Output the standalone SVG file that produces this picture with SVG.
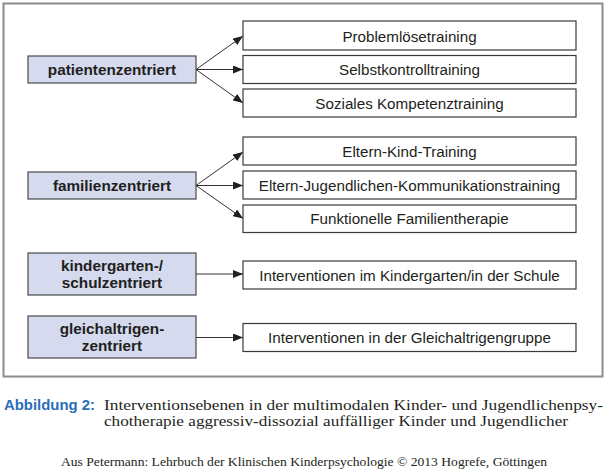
<svg xmlns="http://www.w3.org/2000/svg" width="607" height="474" viewBox="0 0 607 474">
  <style>
    .frame { fill: #ffffff; stroke: #8c8c8c; stroke-width: 2; }
    .level rect { fill: #d5daef; stroke: #4a4a4a; stroke-width: 1.2; }
    .level text { font-family: "Liberation Sans", Arial, sans-serif; font-size: 15.3px; font-weight: bold; fill: #231f20; text-anchor: middle; }
    .measure rect { fill: #ffffff; stroke: #3a3a3a; stroke-width: 1.2; }
    .measure text { font-family: "Liberation Sans", Arial, sans-serif; font-size: 15.2px; fill: #231f20; text-anchor: middle; }
    .conn line { stroke: #333333; stroke-width: 1; marker-end: url(#arrow); }
    .cap-label { font-family: "Liberation Sans", Arial, sans-serif; font-size: 15px; font-weight: bold; fill: #2a6db9; }
    .cap-text { font-family: "Liberation Serif", "Times New Roman", serif; font-size: 14.5px; fill: #231f20; }
    .credit { font-family: "Liberation Serif", "Times New Roman", serif; font-size: 12px; fill: #231f20; }
  </style>
  <defs>
    <marker id="arrow" markerUnits="userSpaceOnUse" markerWidth="10" markerHeight="8" refX="10" refY="4" orient="auto">
      <path d="M0,0 L10,4 L0,8 z" fill="#231f20"/>
    </marker>
  </defs>

  <rect width="607" height="474" fill="#ffffff"/>
  <rect class="frame" x="3.5" y="3.5" width="599" height="373"/>

  <!-- left: intervention levels -->
  <g id="patientenzentriert" class="level">
    <rect x="28" y="56" width="168" height="27"/>
    <text x="112" y="75">patientenzentriert</text>
  </g>
  <g id="familienzentriert" class="level">
    <rect x="28" y="172" width="168" height="27"/>
    <text x="112" y="191">familienzentriert</text>
  </g>
  <g id="kindergarten-schulzentriert" class="level">
    <rect x="28" y="253" width="168" height="42"/>
    <text x="112" y="271">kindergarten-/</text>
    <text x="112" y="288">schulzentriert</text>
  </g>
  <g id="gleichaltrigenzentriert" class="level">
    <rect x="28" y="316" width="168" height="42"/>
    <text x="112" y="334">gleichaltrigen-</text>
    <text x="112" y="351">zentriert</text>
  </g>

  <!-- right: measures -->
  <g id="problemloesetraining" class="measure">
    <rect x="243" y="21" width="333" height="29"/>
    <text x="409.5" y="41.5">Problemlösetraining</text>
  </g>
  <g id="selbstkontrolltraining" class="measure">
    <rect x="243" y="55.5" width="333" height="28"/>
    <text x="409.5" y="75">Selbstkontrolltraining</text>
  </g>
  <g id="soziales-kompetenztraining" class="measure">
    <rect x="243" y="89" width="333" height="28"/>
    <text x="409.5" y="108.5">Soziales Kompetenztraining</text>
  </g>
  <g id="eltern-kind-training" class="measure">
    <rect x="243" y="137" width="333" height="28"/>
    <text x="409.5" y="156.5">Eltern-Kind-Training</text>
  </g>
  <g id="eltern-jugendlichen-kommunikationstraining" class="measure">
    <rect x="243" y="171" width="333" height="28"/>
    <text x="409.5" y="190.5">Eltern-Jugendlichen-Kommunikationstraining</text>
  </g>
  <g id="funktionelle-familientherapie" class="measure">
    <rect x="243" y="205" width="333" height="27.5"/>
    <text x="409.5" y="224">Funktionelle Familientherapie</text>
  </g>
  <g id="interventionen-kindergarten-schule" class="measure">
    <rect x="243" y="261" width="333" height="28"/>
    <text x="409.5" y="280.5">Interventionen im Kindergarten/in der Schule</text>
  </g>
  <g id="interventionen-gleichaltrigengruppe" class="measure">
    <rect x="243" y="323.5" width="333" height="28"/>
    <text x="409.5" y="343">Interventionen in der Gleichaltrigengruppe</text>
  </g>

  <!-- connectors -->
  <g id="connectors" class="conn">
    <line x1="196" y1="69.5" x2="243" y2="36"/>
    <line x1="196" y1="69.5" x2="243" y2="69.5"/>
    <line x1="196" y1="69.5" x2="243" y2="103"/>
    <line x1="196" y1="185.5" x2="243" y2="152"/>
    <line x1="196" y1="185.5" x2="243" y2="185.5"/>
    <line x1="196" y1="185.5" x2="243" y2="218.5"/>
    <line x1="196" y1="274" x2="243" y2="274"/>
    <line x1="196" y1="337.5" x2="243" y2="337.5"/>
  </g>

  <!-- caption -->
  <text class="cap-label" x="4" y="410" textLength="91" lengthAdjust="spacingAndGlyphs">Abbildung 2:</text>
  <text class="cap-text" x="104" y="409.5" textLength="499" lengthAdjust="spacingAndGlyphs">Interventionsebenen in der multimodalen Kinder- und Jugendlichenpsy-</text>
  <text class="cap-text" x="104" y="425.5" textLength="464" lengthAdjust="spacingAndGlyphs">chotherapie aggressiv-dissozial auffälliger Kinder und Jugendlicher</text>
  <text class="credit" x="61" y="466" textLength="486" lengthAdjust="spacingAndGlyphs">Aus Petermann: Lehrbuch der Klinischen Kinderpsychologie © 2013 Hogrefe, Göttingen</text>
</svg>
